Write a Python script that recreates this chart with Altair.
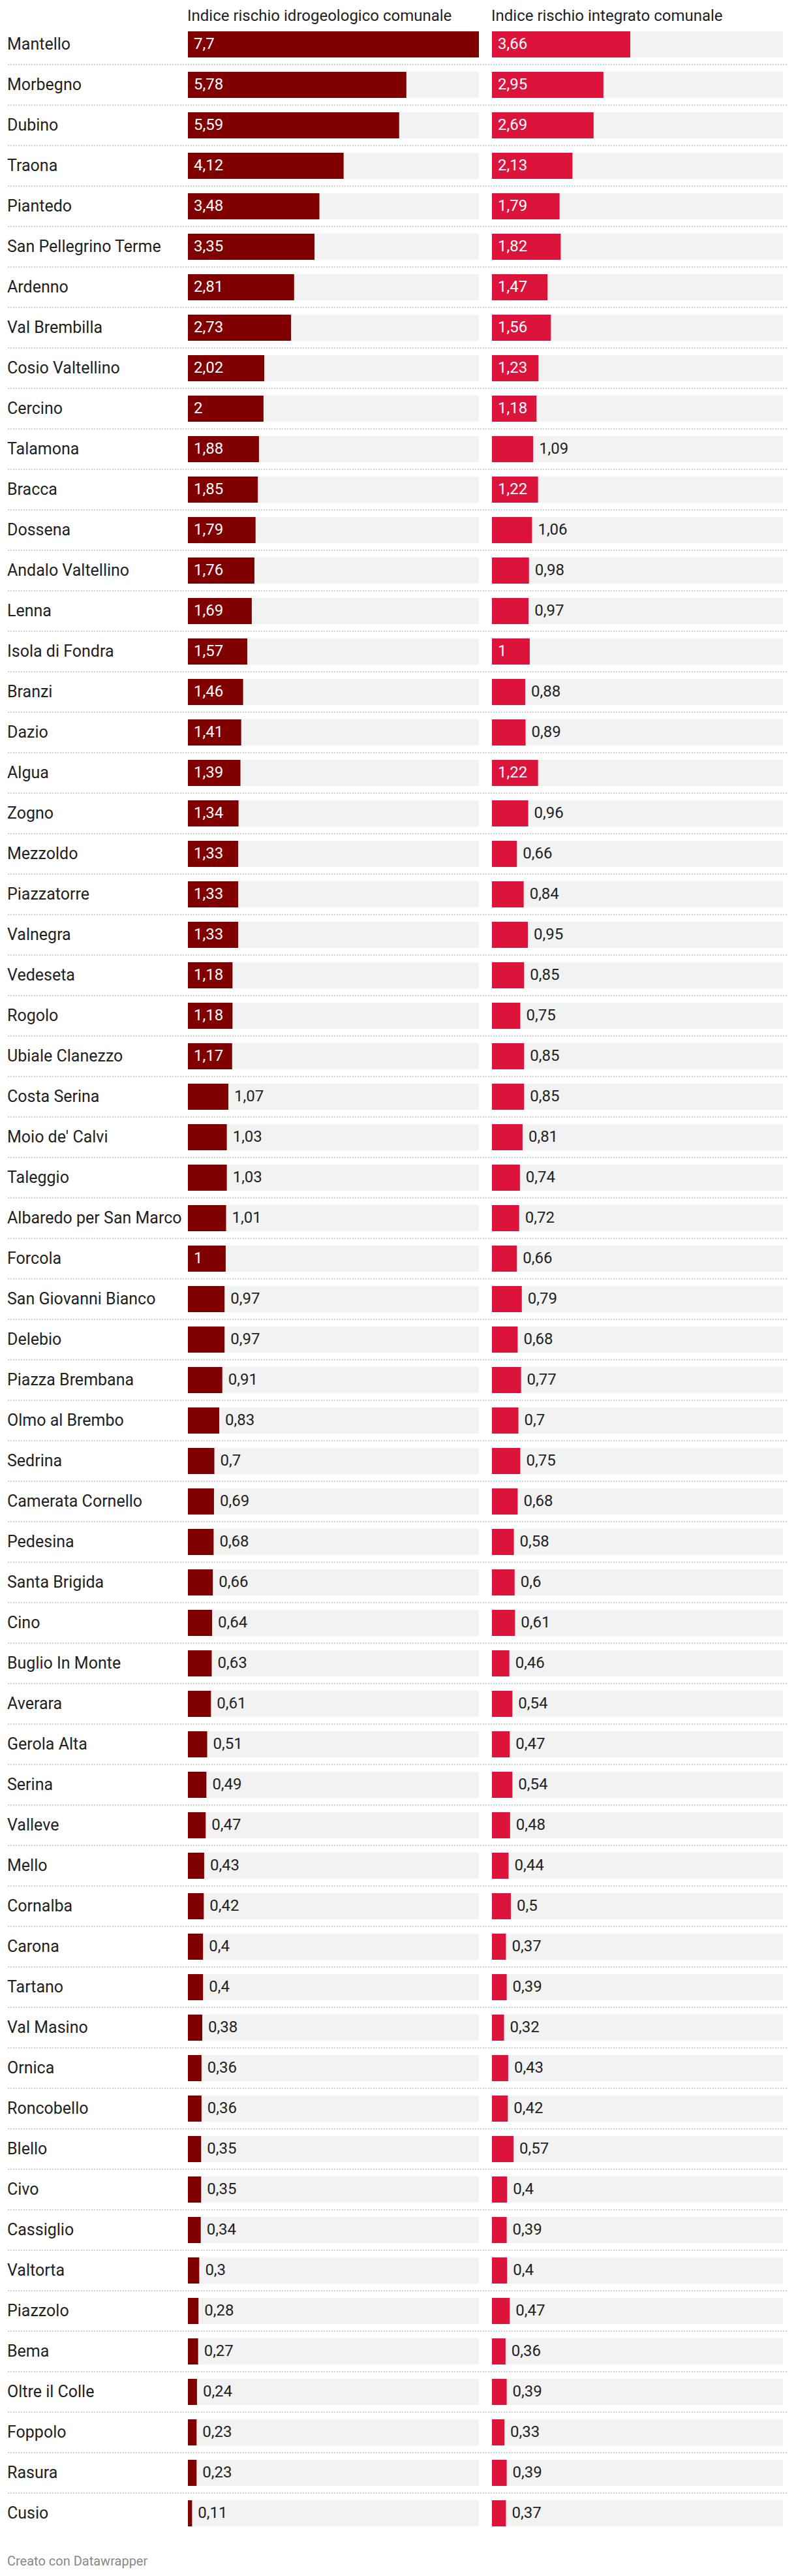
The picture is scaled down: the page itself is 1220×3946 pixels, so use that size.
import altair as alt
import pandas as pd

comuni = ["Mantello", "Morbegno", "Dubino", "Traona", "Piantedo", "San Pellegrino Terme",
          "Ardenno", "Val Brembilla", "Cosio Valtellino", "Cercino", "Talamona", "Bracca",
          "Dossena", "Andalo Valtellino", "Lenna", "Isola di Fondra", "Branzi", "Dazio",
          "Algua", "Zogno", "Mezzoldo", "Piazzatorre", "Valnegra", "Vedeseta", "Rogolo",
          "Ubiale Clanezzo", "Costa Serina", "Moio de' Calvi", "Taleggio",
          "Albaredo per San Marco", "Forcola", "San Giovanni Bianco", "Delebio",
          "Piazza Brembana", "Olmo al Brembo", "Sedrina", "Camerata Cornello", "Pedesina",
          "Santa Brigida", "Cino", "Buglio In Monte", "Averara", "Gerola Alta", "Serina",
          "Valleve", "Mello", "Cornalba", "Carona", "Tartano", "Val Masino", "Ornica",
          "Roncobello", "Blello", "Civo", "Cassiglio", "Valtorta", "Piazzolo", "Bema",
          "Oltre il Colle", "Foppolo", "Rasura", "Cusio"]

idrogeologico = [7.7, 5.78, 5.59, 4.12, 3.48, 3.35, 2.81, 2.73, 2.02, 2, 1.88, 1.85,
                 1.79, 1.76, 1.69, 1.57, 1.46, 1.41, 1.39, 1.34, 1.33, 1.33, 1.33, 1.18,
                 1.18, 1.17, 1.07, 1.03, 1.03, 1.01, 1, 0.97, 0.97, 0.91, 0.83, 0.7, 0.69,
                 0.68, 0.66, 0.64, 0.63, 0.61, 0.51, 0.49, 0.47, 0.43, 0.42, 0.4, 0.4, 0.38,
                 0.36, 0.36, 0.35, 0.35, 0.34, 0.3, 0.28, 0.27, 0.24, 0.23, 0.23, 0.11]

integrato = [3.66, 2.95, 2.69, 2.13, 1.79, 1.82, 1.47, 1.56, 1.23, 1.18, 1.09, 1.22,
             1.06, 0.98, 0.97, 1, 0.88, 0.89, 1.22, 0.96, 0.66, 0.84, 0.95, 0.85, 0.75,
             0.85, 0.85, 0.81, 0.74, 0.72, 0.66, 0.79, 0.68, 0.77, 0.7, 0.75, 0.68, 0.58,
             0.6, 0.61, 0.46, 0.54, 0.47, 0.54, 0.48, 0.44, 0.5, 0.37, 0.39, 0.32, 0.43,
             0.42, 0.57, 0.4, 0.39, 0.4, 0.47, 0.36, 0.39, 0.33, 0.39, 0.37]

titoli = ["Indice rischio idrogeologico comunale", "Indice rischio integrato comunale"]
credito = "Creato con Datawrapper"

# ---- layout / style ----
FONT = "Roboto"
FS_NAME = 25
FS_HDR = 24
FS_VAL = 24
DMAX = 7.7
COLW = 446
C1 = [280, 280 + COLW]
C2 = [746, 746 + COLW]
N = len(comuni)
PITCH = 62
Y0 = 29
DARK = "#800000"
RED = "#dc143c"
BG = "#f2f2f2"
TXT = "#222222"


def fmt(v):
    return f"{v:g}".replace(".", ",")


def text_w(s):
    return sum(4.5 if ch == "," else 12.9 for ch in s)


def build(vals):
    labs = [fmt(v) for v in vals]
    inside = [v / DMAX * COLW > text_w(l) + 22 for v, l in zip(vals, labs)]
    lx = [0 if i else v for v, i in zip(vals, inside)]
    col = ["#ffffff" if i else TXT for i in inside]
    return labs, lx, col


l1, x1, c1 = build(idrogeologico)
l2, x2, c2 = build(integrato)

df = pd.DataFrame({
    "comune": comuni,
    "v1": idrogeologico, "lab1": l1, "lx1": x1, "col1": c1,
    "v2": integrato, "lab2": l2, "lx2": x2, "col2": c2,
})
df_sep = df.iloc[:-1]

yscale = alt.Scale(domain=comuni, range=[Y0, Y0 + PITCH * N],
                   paddingInner=22 / PITCH, paddingOuter=11 / PITCH)
Y = alt.Y("comune:N", scale=yscale, axis=None, sort=comuni)
sc1 = alt.Scale(domain=[0, DMAX], range=C1, zero=True, nice=False)
sc2 = alt.Scale(domain=[0, DMAX], range=C2, zero=True, nice=False)

base = alt.Chart(df)

sep = alt.Chart(df_sep).mark_rule(
    color="#d0d0d0", strokeWidth=2, strokeDash=[2, 2], yOffset=31
).encode(y=Y, x=alt.value(4), x2=alt.value(1200))

names = base.mark_text(align="left", baseline="middle", font=FONT, fontSize=FS_NAME,
                       color=TXT).encode(y=Y, x=alt.value(3), text="comune:N")


def column(vfield, lxfield, labfield, colfield, sc, color):
    bg = base.mark_bar(color=BG).encode(
        y=Y,
        x=alt.X(datum=0, type="quantitative", scale=sc, axis=None),
        x2=alt.X2(datum=DMAX),
    )
    bar = base.mark_bar(color=color).encode(
        y=Y, x=alt.X(f"{vfield}:Q", scale=sc, axis=None))
    lab = base.mark_text(align="left", baseline="middle", dx=9, font=FONT,
                         fontSize=FS_VAL).encode(
        y=Y,
        x=alt.X(f"{lxfield}:Q", scale=sc, axis=None),
        text=f"{labfield}:N",
        color=alt.Color(f"{colfield}:N", scale=None),
    )
    return [bg, bar, lab]


hdr_df = pd.DataFrame({"t": titoli, "pos": [C1[0], C2[0]]})
hdr = alt.Chart(hdr_df).mark_text(
    align="left", baseline="alphabetic", font=FONT, fontSize=FS_HDR, color=TXT, dx=-1
).encode(x=alt.X("pos:Q", scale=None), y=alt.value(24), text="t:N")

cred = alt.Chart(pd.DataFrame({"t": [credito]})).mark_text(
    align="left", baseline="alphabetic", font=FONT, fontSize=20, color="#888888"
).encode(x=alt.value(3), y=alt.value(3922), text="t:N")

layers = [sep, names] + column("v1", "lx1", "lab1", "col1", sc1, DARK) + \
    column("v2", "lx2", "lab2", "col2", sc2, RED) + [hdr, cred]

chart = alt.layer(*layers).resolve_scale(x="independent").properties(
    width=1204, height=3930, padding=0, autosize="none", background="white"
).configure_view(stroke=None)

chart.save("out.html", embed_options={"renderer": "svg", "actions": False})
